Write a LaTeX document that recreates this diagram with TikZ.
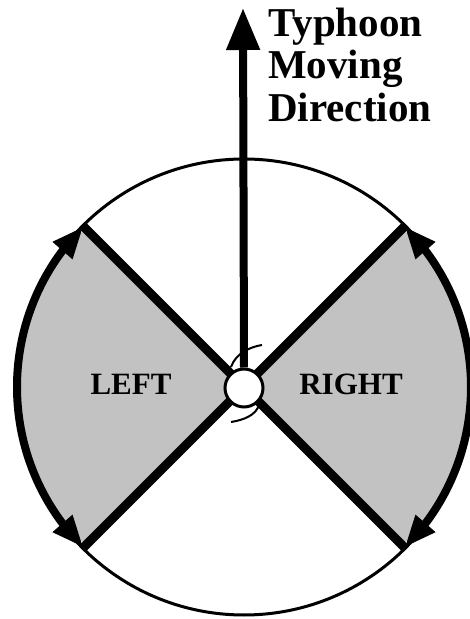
\documentclass[tikz,border=0pt]{standalone}
\usepackage{fontspec}
\setmainfont{Liberation Serif}
\usetikzlibrary{arrows.meta,bending}
\begin{document}
\begin{tikzpicture}[x=1pt,y=1pt,
  sector/.style={fill=black!24,draw=none},
  rim/.style={line width=3pt},
  windarc/.style={line width=8pt,{Triangle[length=32pt,width=24pt]}-{Triangle[length=32pt,width=24pt]}},
  spoke/.style={line width=9pt},
  arm/.style={line width=2pt},
  eyestyle/.style={circle,draw,line width=3pt,fill=white,minimum size=38pt,inner sep=0pt},
  lbl/.style={font=\bfseries\fontsize{31}{31}\selectfont,inner sep=0pt,anchor=base},
  ttl/.style={font=\bfseries\fontsize{41}{41}\selectfont,inner sep=0pt,anchor=base west}
]
\useasboundingbox (0,0) rectangle (470,619);
\coordinate (C) at (244,232);
% gray sectors
\fill[sector] (C) -- ++(135:224) arc (135:225:224) -- cycle;
\fill[sector] (C) -- ++(-45:224) arc (-45:45:224) -- cycle;
% outer circle
\draw[rim] (C) circle (228);
% corner points
\path (C) ++(135:228) coordinate (ul);
\path (C) ++(225:228) coordinate (ll);
\path (C) ++(45:228) coordinate (ur);
\path (C) ++(-45:228) coordinate (lr);
% thick wind arcs
\draw[windarc] (C) ++(135:227) arc (135:225:227);
\draw[windarc] (C) ++(45:227) arc (45:-45:227);
% spokes
\draw[spoke] (ul) -- (lr);
\draw[spoke] (ll) -- (ur);
% typhoon eye
\node[eyestyle] (eye) at (244,231) {};
% moving direction arrow
\coordinate (tip) at (243,611);
\draw[line width=8pt,-{Triangle[length=42pt,width=32pt]}] (eye.north) -- (tip);
% spiral arms
\draw[arm] (262,274) .. controls (250,272) and (236,266) .. (231,252);
\draw[arm] (259,214) .. controls (256,204) and (244,199) .. (231,197);
% labels
\node[lbl] (left) at (131,224) {LEFT};
\node[lbl] (right) at (351,224) {RIGHT};
\node[ttl] (t1) at (268,582) {Typhoon};
\node[ttl] (t2) at (268,540) {Moving};
\node[ttl] (t3) at (268,497) {Direction};
\end{tikzpicture}
\end{document}
